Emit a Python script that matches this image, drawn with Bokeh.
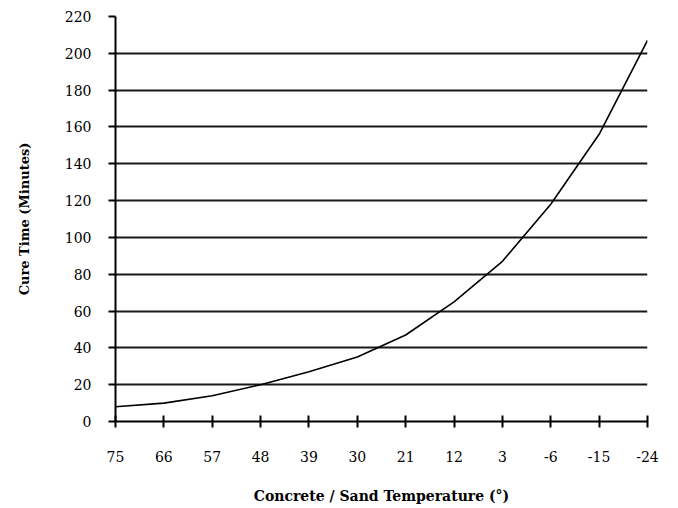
from bokeh.plotting import figure
from bokeh.models import Range1d, FixedTicker, SingleIntervalTicker
from bokeh.embed import file_html
from bokeh.resources import INLINE

# Data
temperatures = ["75", "66", "57", "48", "39", "30", "21", "12", "3", "-6", "-15", "-24"]
cure_minutes = [8, 10, 14, 20, 27, 35, 47, 65, 87, 118, 156, 207]

y_title = "Cure Time (Minutes)"
x_title = "Concrete / Sand Temperature (°)"

xs = list(range(len(temperatures)))

p = figure(width=670, height=508, output_backend="svg", toolbar_location=None,
           x_range=Range1d(0, len(temperatures) - 1), y_range=Range1d(0, 220),
           min_border_left=115, min_border_right=23, min_border_top=16, min_border_bottom=87)

p.outline_line_color = None
p.background_fill_color = "white"
p.border_fill_color = "white"

p.line(xs, cure_minutes, line_color="black", line_width=1.6)

font = "DejaVu Serif"

# X axis
p.xaxis.ticker = FixedTicker(ticks=xs)
p.xaxis.major_label_overrides = {i: t for i, t in enumerate(temperatures)}
p.xaxis.axis_line_color = "black"
p.xaxis.axis_line_width = 2
p.xaxis.major_tick_line_color = "black"
p.xaxis.major_tick_line_width = 2
p.xaxis.major_tick_in = 6
p.xaxis.major_tick_out = 6
p.xaxis.minor_tick_line_color = None
p.xaxis.major_label_text_font = font
p.xaxis.major_label_text_font_size = "14px"
p.xaxis.major_label_text_color = "black"
p.xaxis.major_label_standoff = 23
p.xaxis.axis_label = x_title
p.xaxis.axis_label_text_font = font
p.xaxis.axis_label_text_font_size = "14px"
p.xaxis.axis_label_text_font_style = "bold"
p.xaxis.axis_label_text_color = "black"
p.xaxis.axis_label_standoff = 23

# Y axis
p.yaxis.ticker = SingleIntervalTicker(interval=20)
p.yaxis.axis_line_color = "black"
p.yaxis.axis_line_width = 2
p.yaxis.major_tick_line_color = "black"
p.yaxis.major_tick_line_width = 2
p.yaxis.major_tick_in = 0
p.yaxis.major_tick_out = 7
p.yaxis.minor_tick_line_color = None
p.yaxis.major_label_text_font = font
p.yaxis.major_label_text_font_size = "14px"
p.yaxis.major_label_text_color = "black"
p.yaxis.major_label_standoff = 17
p.yaxis.axis_label = y_title
p.yaxis.axis_label_text_font = font
p.yaxis.axis_label_text_font_size = "13px"
p.yaxis.axis_label_text_font_style = "bold"
p.yaxis.axis_label_text_color = "black"
p.yaxis.axis_label_standoff = 30

# Grid
p.xgrid.grid_line_color = None
p.ygrid.grid_line_color = "black"
p.ygrid.grid_line_width = 2
p.ygrid.grid_line_alpha = 0.9

open("out.html", "w").write(file_html(p, INLINE))
